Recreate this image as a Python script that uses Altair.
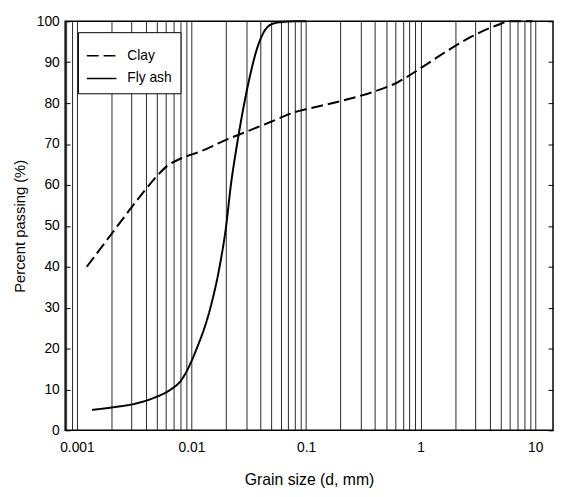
import altair as alt
import pandas as pd

# Clay (dashed) grain size distribution
clay_d = [0.00122, 0.002, 0.0029, 0.0039, 0.005, 0.0061, 0.008, 0.012, 0.02, 0.03,
          0.05, 0.08, 0.1, 0.2, 0.39, 0.63, 0.97, 1.6, 2.8, 4.7, 6.0, 9.5]
clay_p = [40, 48, 54, 58.6, 62.2, 64.6, 66.4, 68.2, 71, 73,
          75.5, 77.8, 78.5, 80.5, 82.8, 85.1, 88.3, 92.3, 96.3, 99.1, 100, 100]

# Fly ash (solid) grain size distribution
fly_d = [0.00135, 0.00215, 0.0032, 0.0047, 0.0066, 0.008, 0.0111, 0.0145, 0.0176, 0.02,
         0.0221, 0.0244, 0.028, 0.032, 0.037, 0.043, 0.05, 0.06, 0.08, 0.1]
fly_p = [5, 5.7, 6.5, 7.95, 10, 12, 20, 29.6, 40.1, 49.7,
         60.2, 68.2, 78, 86, 93, 97.5, 99.3, 99.8, 100, 100]

series_names = ["Clay", "Fly ash"]
major_ticks = [0.001, 0.01, 0.1, 1, 10]
y_ticks = list(range(0, 101, 10))
x_domain = [0.000789, 14.3]

minor_ticks = []
for e in range(-4, 2):
    for k in range(1, 10):
        v = round(k * 10.0 ** e, 6)
        if x_domain[0] <= v <= 10:
            minor_ticks.append(v)

df = pd.concat([
    pd.DataFrame({"d": clay_d, "p": clay_p, "s": series_names[0], "o": range(len(clay_d))}),
    pd.DataFrame({"d": fly_d, "p": fly_p, "s": series_names[1], "o": range(len(fly_d))}),
])
ydf = pd.DataFrame({"v": y_ticks})

FONT = "Liberation Sans"
yscale = alt.Scale(domain=[0, 100], nice=False, zero=False)

label_expr = "indexof([0.001,0.01,0.1,1,10], datum.value) >= 0 ? datum.label : ''"

lines = alt.Chart(df).mark_line(color="black", strokeWidth=2, interpolate="monotone").encode(
    x=alt.X("d:Q",
            scale=alt.Scale(type="log", domain=x_domain, nice=False),
            axis=alt.Axis(values=minor_ticks, format="~g", labelExpr=label_expr,
                          grid=True, gridColor="black", gridOpacity=0.85, gridWidth=1,
                          ticks=False, tickSize=0, domain=False,
                          labelFontSize=14, labelPadding=10, labelColor="black",
                          labelFont=FONT, labelFlush=False,
                          title="Grain size (d, mm)", titleFont=FONT, titleFontSize=16,
                          titleFontWeight="normal", titleColor="black", titlePadding=18)),
    y=alt.Y("p:Q", scale=yscale,
            axis=alt.Axis(values=y_ticks, orient="left", offset=-5, tickSize=5,
                          tickColor="black", tickWidth=1, domain=False, grid=False,
                          labelFontSize=14, labelPadding=6, labelColor="black", labelFont=FONT,
                          title="Percent passing (%)", titleFont=FONT, titleFontSize=15,
                          titleFontWeight="normal", titleColor="black", titlePadding=9)),
    strokeDash=alt.StrokeDash("s:N",
                              scale=alt.Scale(domain=series_names, range=[[12, 5], [1, 0]]),
                              legend=alt.Legend(title=None, orient="none", legendX=13, legendY=11,
                                                symbolType="stroke", symbolSize=900,
                                                symbolStrokeWidth=1.5, symbolStrokeColor="black",
                                                labelFont=FONT, labelFontSize=14, labelColor="black",
                                                labelOffset=10, rowPadding=0, padding=8,
                                                strokeColor="black", fillColor="white")),
    order="o:Q",
)

right_axis = alt.Chart(ydf).mark_point(opacity=0).encode(
    y=alt.Y("v:Q", scale=yscale,
            axis=alt.Axis(values=y_ticks, orient="right", offset=-5, tickSize=5,
                          tickColor="black", tickWidth=1, domain=False, grid=False,
                          labels=False, title=None)),
)

chart = alt.layer(lines, right_axis).resolve_axis(y="independent").properties(
    width=495, height=415,
    autosize=alt.AutoSizeParams(type="none"),
    padding={"left": 58, "top": 10, "right": 1, "bottom": 56},
    background="white",
).configure_view(stroke="black", strokeWidth=1.5)

chart.save("out.html", embed_options={"renderer": "svg", "actions": False})
